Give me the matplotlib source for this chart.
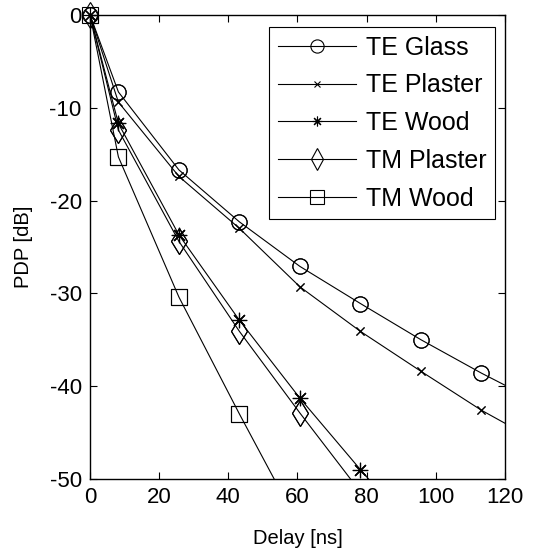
import numpy as np
import matplotlib.pyplot as plt

plt.rcParams['font.family'] = ['Liberation Sans', 'DejaVu Sans']
plt.rcParams['axes.unicode_minus'] = False

# sample delays where markers sit (ns); last entry 120 is the line end only
delay = [0, 8.2, 25.7, 43.2, 60.7, 78.2, 95.7, 113.2, 120]

te_glass = [0, -8.3, -16.7, -22.3, -27.1, -31.1, -35.0, -38.6, -39.9]
te_plaster = [0, -9.4, -17.4, -23.0, -29.3, -34.1, -38.4, -42.6, -44.0]
te_wood = [0, -11.7, -23.7, -32.9, -41.3, -49.0, -56.5]
tm_plaster = [0, -12.4, -24.4, -34.1, -42.9, -51.4, -59.0]
tm_wood = [0, -15.3, -30.4, -43.0, -55.2]

asterisk = (8, 2, 0)
# name, values, marker, size on plot, size in legend
series = [
    ('TE Glass', te_glass, 'o', 11, 9.5),
    ('TE Plaster', te_plaster, 'x', 6, 4),
    ('TE Wood', te_wood, asterisk, 11, 7),
    ('TM Plaster', tm_plaster, 'd', 13, 11),
    ('TM Wood', tm_wood, 's', 11, 9.5),
]

fig = plt.figure(figsize=(5.36, 5.53), dpi=100)
ax = fig.add_axes([0.168, 0.134, 0.774, 0.839])

for name, vals, mk, ms, _ in series:
    n = len(vals)
    x = np.array(delay[:n])
    y = np.array(vals)
    # markers only at the measured sample points, not the 120 ns end point
    every = list(range(min(n, 8)))
    ax.plot(x, y, color='black', lw=0.8, marker=mk, ms=ms,
            mfc='none', mec='black', mew=0.8, markevery=every, label=name)
    # markers inside the y range are drawn unclipped (origin sits on the frame)
    idx = [i for i in every if y[i] >= -50]
    ax.plot(x[idx], y[idx], ls='none', marker=mk, ms=ms, mfc='none',
            mec='black', mew=0.8, clip_on=False)

ax.set_xlim(0, 120)
ax.set_ylim(-50, 0)
ax.set_xticks(np.arange(0, 121, 20))
ax.set_yticks(np.arange(-50, 1, 10))
ax.tick_params(direction='in', top=True, right=True, length=5,
               labelsize=16, width=0.8, pad=6)
for s in ax.spines.values():
    s.set_linewidth(1.0)

ax.set_xlabel('Delay [ns]', fontsize=14.5, labelpad=15)
ax.set_ylabel('PDP [dB]', fontsize=14.5, labelpad=12)

leg = ax.legend(loc='upper right', bbox_to_anchor=(0.976, 0.974),
                borderaxespad=0, fontsize=18, handlelength=3.1,
                labelspacing=0.55, handletextpad=0.4, borderpad=0.35,
                fancybox=False, framealpha=1, edgecolor='black')
leg.get_frame().set_linewidth(0.8)
for h, (_, _, _, _, lms) in zip(leg.legend_handles, series):
    h.set_markersize(lms)

plt.savefig('out.png', dpi=100)
